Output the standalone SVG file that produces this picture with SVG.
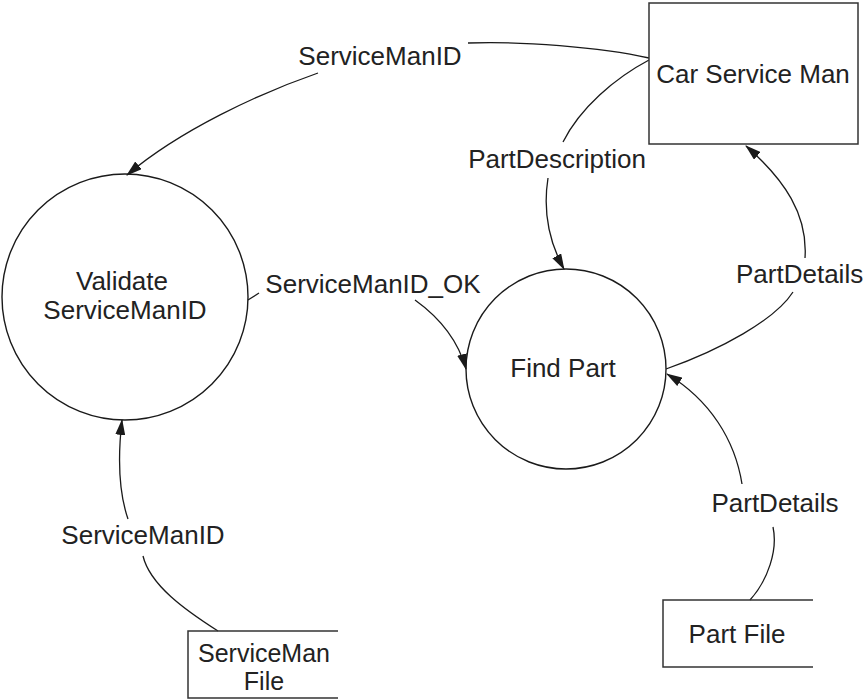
<svg xmlns="http://www.w3.org/2000/svg" width="863" height="700" viewBox="0 0 863 700">
<style>
  .bg{fill:#ffffff}
  .node{fill:#ffffff;stroke:#333333;stroke-width:1.5}
  .circ{fill:none;stroke:#1a1a1a;stroke-width:1.4}
  .store{fill:none;stroke:#333333;stroke-width:1.5}
  .flow{fill:none;stroke:#1a1a1a;stroke-width:1.3}
  text{font-family:"Liberation Sans",Arial,Helvetica,sans-serif;font-size:26px;fill:#222222}
  .mid{text-anchor:middle}
  .small{font-size:25px}
</style>
<defs>
  <marker id="arrow" markerUnits="userSpaceOnUse" markerWidth="16" markerHeight="10" viewBox="0 0 16 10" refX="15" refY="5" orient="auto">
    <path d="M0,0 L16,5 L0,10 Z" fill="#1a1a1a"/>
  </marker>
</defs>
<rect class="bg" x="0" y="0" width="863" height="700"/>

<g id="connectors">
  <g id="flow-servicemanid-top">
    <path class="flow" d="M649,58 C600,47 520,41 468,43"/>
    <path class="flow" d="M318,73 C260,93 180,130 127,175" marker-end="url(#arrow)"/>
    <text class="mid" x="380" y="65">ServiceManID</text>
  </g>
  <g id="flow-partdescription">
    <path class="flow" d="M649,60 C615,78 580,108 563,142"/>
    <path class="flow" d="M548,178 C543,210 548,240 564,269" marker-end="url(#arrow)"/>
    <text class="mid" x="557" y="168">PartDescription</text>
  </g>
  <g id="flow-servicemanid-ok">
    <path class="flow" d="M248,300 L259,293"/>
    <path class="flow" d="M415,300 C440,318 458,340 466,369" marker-end="url(#arrow)"/>
    <text class="mid" x="373" y="293">ServiceManID_OK</text>
  </g>
  <g id="flow-partdetails-right">
    <path class="flow" d="M666,369 C720,350 775,320 793,292"/>
    <path class="flow" d="M805,258 C808,215 785,180 746,146" marker-end="url(#arrow)"/>
    <text x="736" y="283">PartDetails</text>
  </g>
  <g id="flow-partdetails-lower">
    <path class="flow" d="M750,600 C768,580 778,550 773,527"/>
    <path class="flow" d="M742,484 C735,440 710,400 667,374" marker-end="url(#arrow)"/>
    <text class="mid" x="775" y="512">PartDetails</text>
  </g>
  <g id="flow-servicemanid-bottom">
    <path class="flow" d="M218,631 C185,610 150,585 143,556"/>
    <path class="flow" d="M128,519 C118,490 118,455 122,420" marker-end="url(#arrow)"/>
    <text class="mid" x="143" y="544">ServiceManID</text>
  </g>
</g>

<g id="car-service-man">
  <rect class="node" x="649" y="3" width="209" height="141"/>
  <text class="mid" x="753" y="83">Car Service Man</text>
</g>

<g id="validate-servicemanid">
  <circle class="circ" cx="125" cy="297" r="123"/>
  <text class="mid" x="122" y="290">Validate</text>
  <text class="mid" x="125" y="319">ServiceManID</text>
</g>

<g id="find-part">
  <circle class="circ" cx="566" cy="369" r="100"/>
  <text class="mid" x="563" y="377">Find Part</text>
</g>

<g id="serviceman-file">
  <path class="store" d="M338,631 L188,631 L188,698 L338,698"/>
  <text class="mid small" x="264" y="662">ServiceMan</text>
  <text class="mid small" x="264" y="690">File</text>
</g>

<g id="part-file">
  <path class="store" d="M813,600 L663,600 L663,667 L813,667"/>
  <text class="mid" x="737" y="643">Part File</text>
</g>
</svg>
